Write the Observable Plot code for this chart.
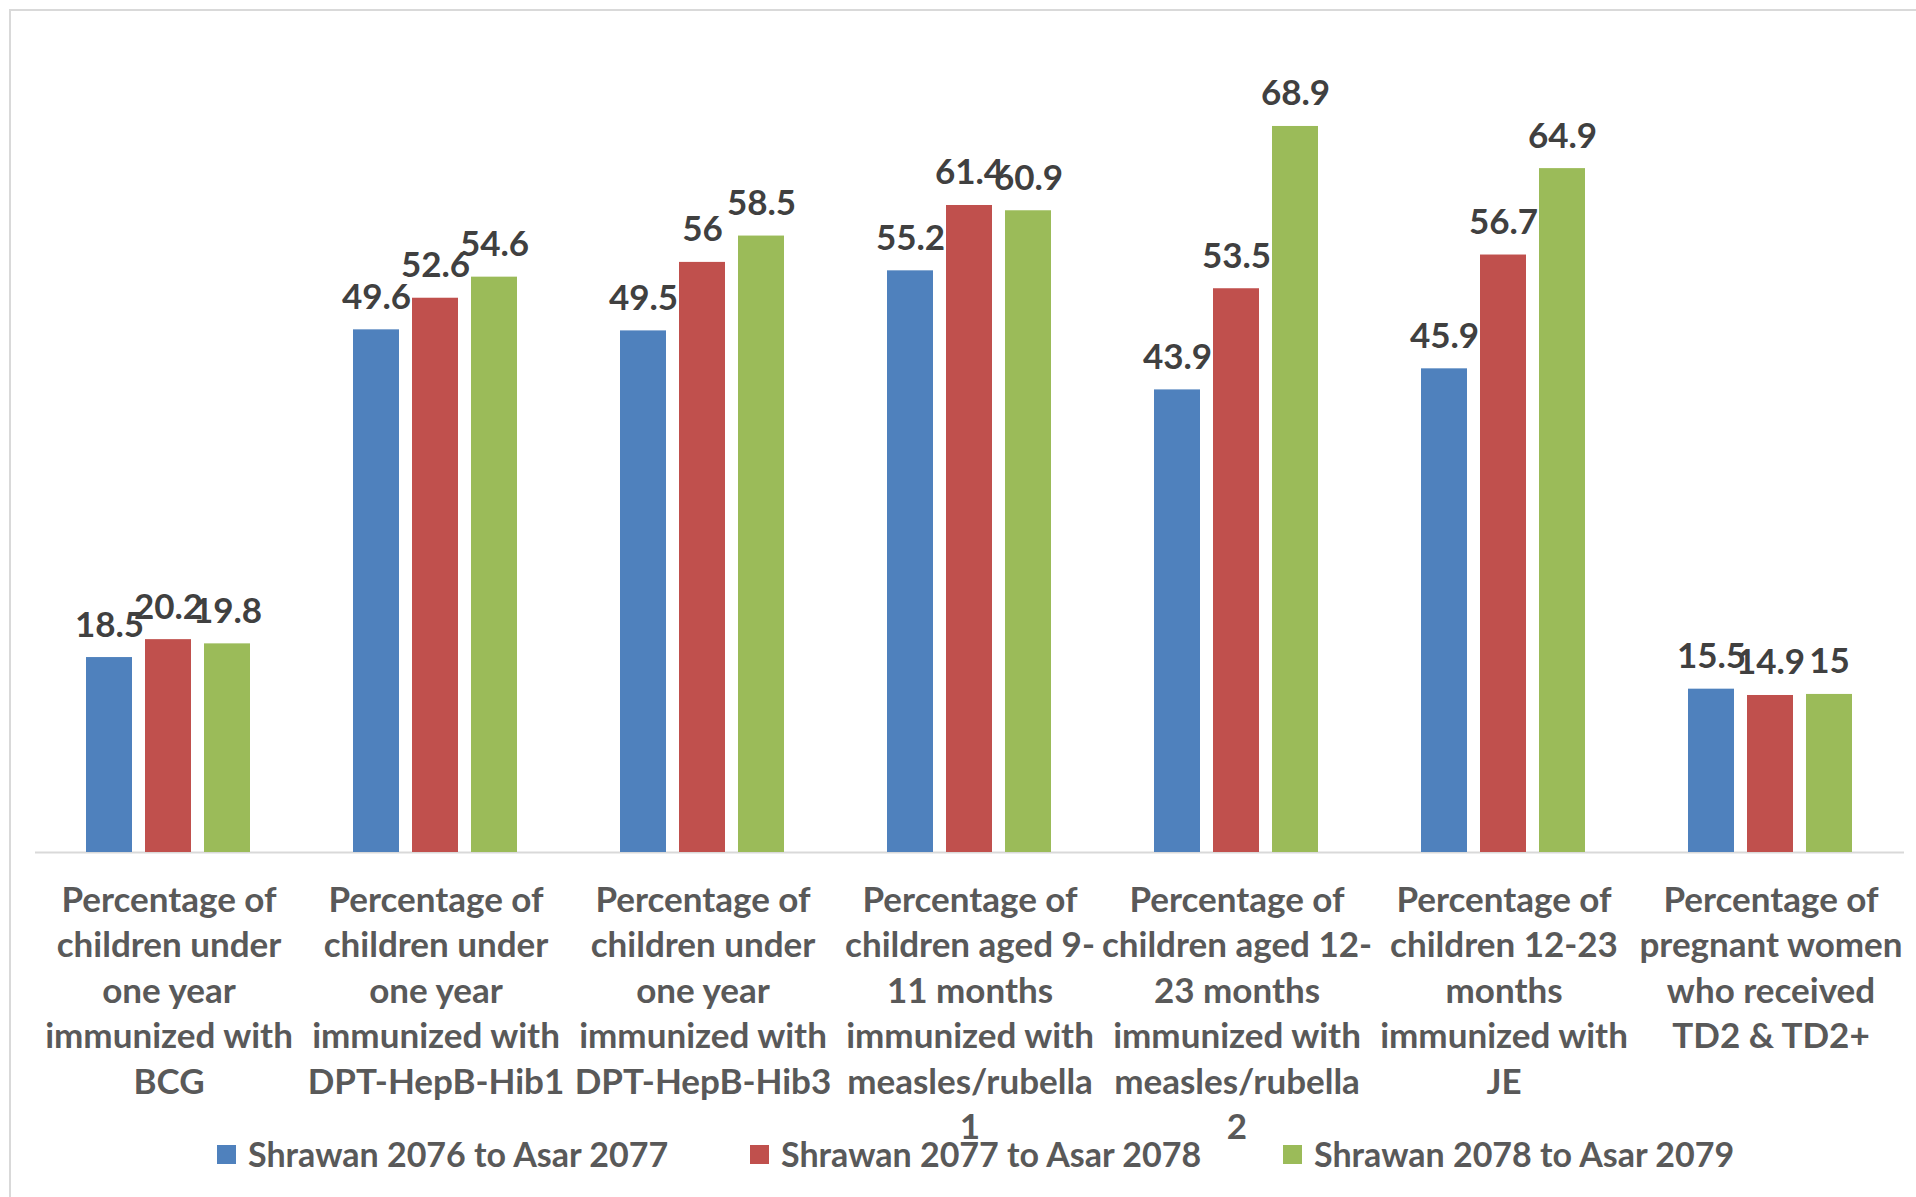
<!DOCTYPE html>
<html>
<head>
<meta charset="utf-8">
<script src="https://cdn.jsdelivr.net/npm/d3@7"></script>
<script src="https://cdn.jsdelivr.net/npm/@observablehq/plot@0.6"></script>
<style>
  html, body { margin: 0; padding: 0; background: #fff; overflow: hidden; }
  #wrap { position: relative; width: 1916px; height: 1197px; font-family: Lato, "Open Sans", sans-serif; }
  #border { position: absolute; left: 9px; top: 9px; width: 2000px; height: 2000px;
            border-left: 2px solid #d9d9d9; border-top: 2px solid #d9d9d9; pointer-events: none; z-index: 2; }
  #legend { height: 28px; display: flex; align-items: center; padding-left: 217px; }
  .item { width: 533px; display: flex; align-items: center; flex: none; }
  .sw { width: 19px; height: 19px; margin-right: 12px; flex: none; }
  .lt { font-size: 34px; font-weight: bold; color: #595959; white-space: nowrap; line-height: 1.2; }
</style>
</head>
<body>
<div id="wrap"><div id="border"></div></div>
<script>
const categories = [
  "Percentage of\nchildren under\none year\nimmunized with\nBCG",
  "Percentage of\nchildren under\none year\nimmunized with\nDPT-HepB-Hib1",
  "Percentage of\nchildren under\none year\nimmunized with\nDPT-HepB-Hib3",
  "Percentage of\nchildren aged 9-\n11 months\nimmunized with\nmeasles/rubella\n1",
  "Percentage of\nchildren aged 12-\n23 months\nimmunized with\nmeasles/rubella\n2",
  "Percentage of\nchildren 12-23\nmonths\nimmunized with\nJE",
  "Percentage of\npregnant women\nwho received\nTD2 & TD2+"
];
const series = ["Shrawan 2076 to Asar 2077", "Shrawan 2077 to Asar 2078", "Shrawan 2078 to Asar 2079"];
const colors = ["#4F81BD", "#C0504D", "#9BBB59"];
const values2077 = [18.5, 49.6, 49.5, 55.2, 43.9, 45.9, 15.5];
const values2078 = [20.2, 52.6, 56, 61.4, 53.5, 56.7, 14.9];
const values2079 = [19.8, 54.6, 58.5, 60.9, 68.9, 64.9, 15];
const seriesValues = [values2077, values2078, values2079];

const data = categories.flatMap((c, i) =>
  series.map((s, j) => ({category: c, series: s, value: seriesValues[j][i]})));

const chart = Plot.plot({
  width: 1916,
  height: 1140,
  marginLeft: 32,
  marginRight: 9,
  marginTop: 9,
  marginBottom: 288,
  style: {overflow: "visible", background: "transparent", fontFamily: "Lato, 'Open Sans', sans-serif"},
  fx: {domain: categories, padding: 0, axis: null},
  x: {domain: series, paddingInner: 0.2165, paddingOuter: 0.866, axis: null},
  y: {domain: [0, 80], axis: null},
  color: {domain: series, range: colors},
  marks: [
    Plot.ruleY([0], {stroke: "#d9d9d9", strokeWidth: 2}),
    Plot.barY(data, {fx: "category", x: "series", y: "value", fill: "series"}),
    Plot.text(data, {fx: "category", x: "series", y: "value", text: d => String(d.value),
      lineAnchor: "bottom", dy: -21, fontSize: 35, fontWeight: "bold", fill: "#404040"}),
    Plot.text(categories, {fx: d => d, text: d => d, frameAnchor: "bottom", lineAnchor: "top",
      dy: 27, lineHeight: 1.3, fontSize: 35, fontWeight: "bold", fill: "#595959"})
  ]
});

const wrap = document.getElementById("wrap");
wrap.appendChild(chart);

const legend = document.createElement("div");
legend.id = "legend";
series.forEach((s, j) => {
  const item = document.createElement("div");
  item.className = "item";
  const sw = document.createElement("div");
  sw.className = "sw";
  sw.style.background = colors[j];
  const lt = document.createElement("span");
  lt.className = "lt";
  lt.textContent = s;
  item.appendChild(sw);
  item.appendChild(lt);
  legend.appendChild(item);
});
wrap.appendChild(legend);
</script>
</body>
</html>
